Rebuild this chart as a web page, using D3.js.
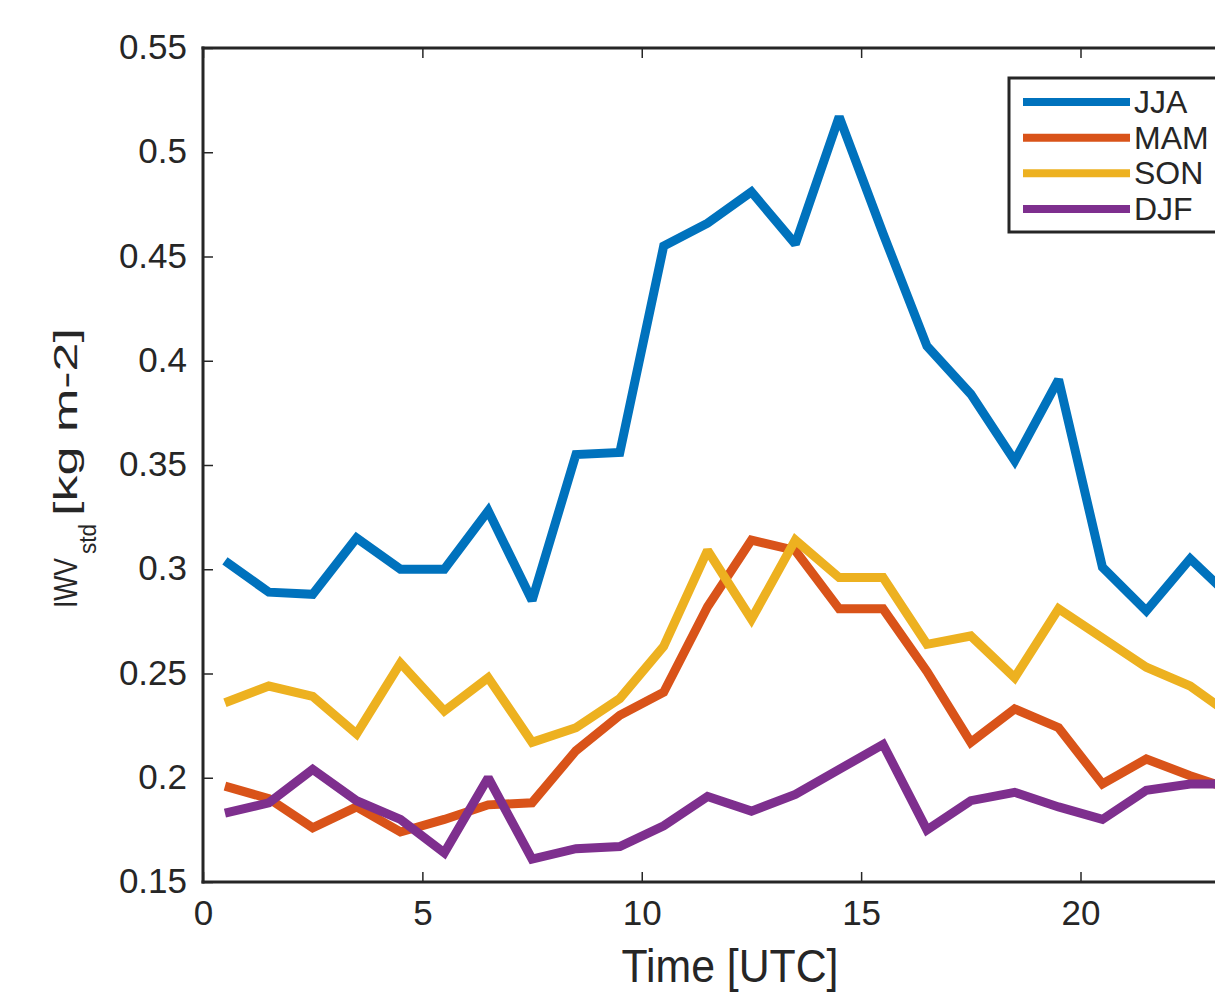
<!DOCTYPE html>
<html>
<head>
<meta charset="utf-8">
<script src="https://cdn.jsdelivr.net/npm/d3@7"></script>
<style>
  html, body { margin: 0; padding: 0; background: #fff; }
  svg { display: block; }
  text { font-family: "Liberation Sans", Arial, Helvetica, sans-serif; fill: #262626; }
</style>
</head>
<body>
<svg id="chart" width="1215" height="992"></svg>
<script>
// Hour of day (bin centres, UTC)
const hours = [0.5, 1.5, 2.5, 3.5, 4.5, 5.5, 6.5, 7.5, 8.5, 9.5, 10.5, 11.5,
               12.5, 13.5, 14.5, 15.5, 16.5, 17.5, 18.5, 19.5, 20.5, 21.5, 22.5, 23.5];

// Standard deviation of IWV per season [kg m-2]
const jja = [0.304, 0.289, 0.288, 0.315, 0.300, 0.300, 0.328, 0.285, 0.355, 0.356, 0.455, 0.466,
             0.481, 0.456, 0.517, 0.461, 0.407, 0.384, 0.352, 0.391, 0.301, 0.280, 0.305, 0.285];
const mam = [0.196, 0.190, 0.176, 0.186, 0.174, 0.180, 0.187, 0.188, 0.213, 0.230, 0.241, 0.282,
             0.314, 0.309, 0.281, 0.281, 0.251, 0.217, 0.233, 0.224, 0.197, 0.209, 0.201, 0.194];
const son = [0.236, 0.244, 0.239, 0.221, 0.255, 0.232, 0.248, 0.217, 0.224, 0.238, 0.263, 0.309,
             0.276, 0.314, 0.296, 0.296, 0.264, 0.268, 0.248, 0.281, 0.267, 0.253, 0.244, 0.229];
const djf = [0.183, 0.188, 0.204, 0.189, 0.180, 0.164, 0.200, 0.161, 0.166, 0.167, 0.177, 0.191,
             0.184, 0.192, 0.204, 0.216, 0.175, 0.189, 0.193, 0.186, 0.180, 0.194, 0.197, 0.197];

const seasonNames = ["JJA", "MAM", "SON", "DJF"];
const seasonColors = ["#0072BD", "#D95319", "#EDB120", "#7E2F8E"];

const xTicks = [0, 5, 10, 15, 20];
const yTicks = [0.15, 0.2, 0.25, 0.3, 0.35, 0.4, 0.45, 0.5, 0.55];
const yTickLabels = ["0.15", "0.2", "0.25", "0.3", "0.35", "0.4", "0.45", "0.5", "0.55"];

const series = [jja, mam, son, djf].map((vals, i) => ({
  name: seasonNames[i],
  color: seasonColors[i],
  points: vals.map((v, j) => [hours[j], v])
}));

const svg = d3.select("#chart");
const plotLeft = 203, plotTop = 48, plotBottom = 882, plotRight = 1256;
const axisColor = "#262626";

const x = d3.scaleLinear().domain([0, 24]).range([plotLeft, plotRight]);
const y = d3.scaleLinear().domain([0.15, 0.55]).range([plotBottom, plotTop]);

// Data lines
const line = d3.line().x(d => x(d[0])).y(d => y(d[1]));
svg.append("g").selectAll("path")
  .data(series)
  .join("path")
  .attr("d", d => line(d.points))
  .attr("fill", "none")
  .attr("stroke", d => d.color)
  .attr("stroke-width", 9)
  .attr("stroke-linejoin", "miter")
  .attr("stroke-miterlimit", 2)
  .attr("stroke-linecap", "butt");

// Axes (box style, ticks pointing inward)
const tickLen = 10;
const axisW = 3;

const xBottom = svg.append("g").attr("transform", `translate(0,${plotBottom})`)
  .call(d3.axisBottom(x).tickValues(xTicks).tickSize(-tickLen).tickPadding(0).tickFormat(d3.format("d")));
const xTop = svg.append("g").attr("transform", `translate(0,${plotTop})`)
  .call(d3.axisTop(x).tickValues(xTicks).tickSize(-tickLen).tickFormat(""));
const yLeft = svg.append("g").attr("transform", `translate(${plotLeft},0)`)
  .call(d3.axisLeft(y).tickValues(yTicks).tickSize(-tickLen).tickFormat((d, i) => yTickLabels[i]));
const yRight = svg.append("g").attr("transform", `translate(${plotRight},0)`)
  .call(d3.axisRight(y).tickValues(yTicks).tickSize(-tickLen).tickFormat(""));

[xBottom, xTop, yLeft, yRight].forEach(g => {
  g.select(".domain").attr("stroke", axisColor).attr("stroke-width", axisW)
    .attr("stroke-linecap", "square");
  g.selectAll(".tick line").attr("stroke", axisColor).attr("stroke-width", 1.5);
  g.selectAll("text").attr("fill", axisColor).style("font-family", "'Liberation Sans', Arial, sans-serif");
});
// plain box edges without the outer tick stubs
[xBottom, xTop].forEach(g => g.select(".domain").attr("d", `M${plotLeft},0H${plotRight}`));
[yLeft, yRight].forEach(g => g.select(".domain").attr("d", `M0,${plotTop}V${plotBottom}`));

xBottom.selectAll(".tick text")
  .attr("font-size", 35)
  .attr("y", 43)
  .attr("dy", null);
yLeft.selectAll(".tick text")
  .attr("font-size", 35)
  .attr("x", -16)
  .attr("dy", "0.3em");

// Axis titles
svg.append("text")
  .attr("x", 730).attr("y", 982)
  .attr("text-anchor", "middle")
  .attr("font-size", 47)
  .attr("textLength", 217)
  .attr("lengthAdjust", "spacingAndGlyphs")
  .text("Time [UTC]");

const yl = svg.append("g").attr("transform", "translate(77,608) rotate(-90)");
yl.append("text").attr("x", 0).attr("y", 0)
  .attr("font-size", 34)
  .attr("textLength", 50).attr("lengthAdjust", "spacingAndGlyphs")
  .text("IWV");
yl.append("text").attr("x", 54).attr("y", 19)
  .attr("font-size", 23)
  .attr("textLength", 30).attr("lengthAdjust", "spacingAndGlyphs")
  .text("std");
yl.append("text").attr("x", 92).attr("y", 0)
  .attr("font-size", 33)
  .attr("textLength", 188).attr("lengthAdjust", "spacingAndGlyphs")
  .text("[kg m-2]");

// Legend
const legend = svg.append("g");
legend.append("rect")
  .attr("x", 1009).attr("y", 78)
  .attr("width", 320).attr("height", 154)
  .attr("fill", "#fff")
  .attr("stroke", axisColor)
  .attr("stroke-width", 3);
const rowY = d3.scalePoint().domain(seasonNames).range([102, 209]);
const rows = legend.selectAll("g.row").data(series).join("g").attr("class", "row")
  .attr("transform", d => `translate(0,${rowY(d.name)})`);
rows.append("line")
  .attr("x1", 1023).attr("x2", 1130).attr("y1", 0).attr("y2", 0)
  .attr("stroke", d => d.color).attr("stroke-width", 8);
rows.append("text")
  .attr("x", 1134).attr("y", 11)
  .attr("font-size", 32)
  .attr("fill", "#000")
  .text(d => d.name);
</script>
</body>
</html>
